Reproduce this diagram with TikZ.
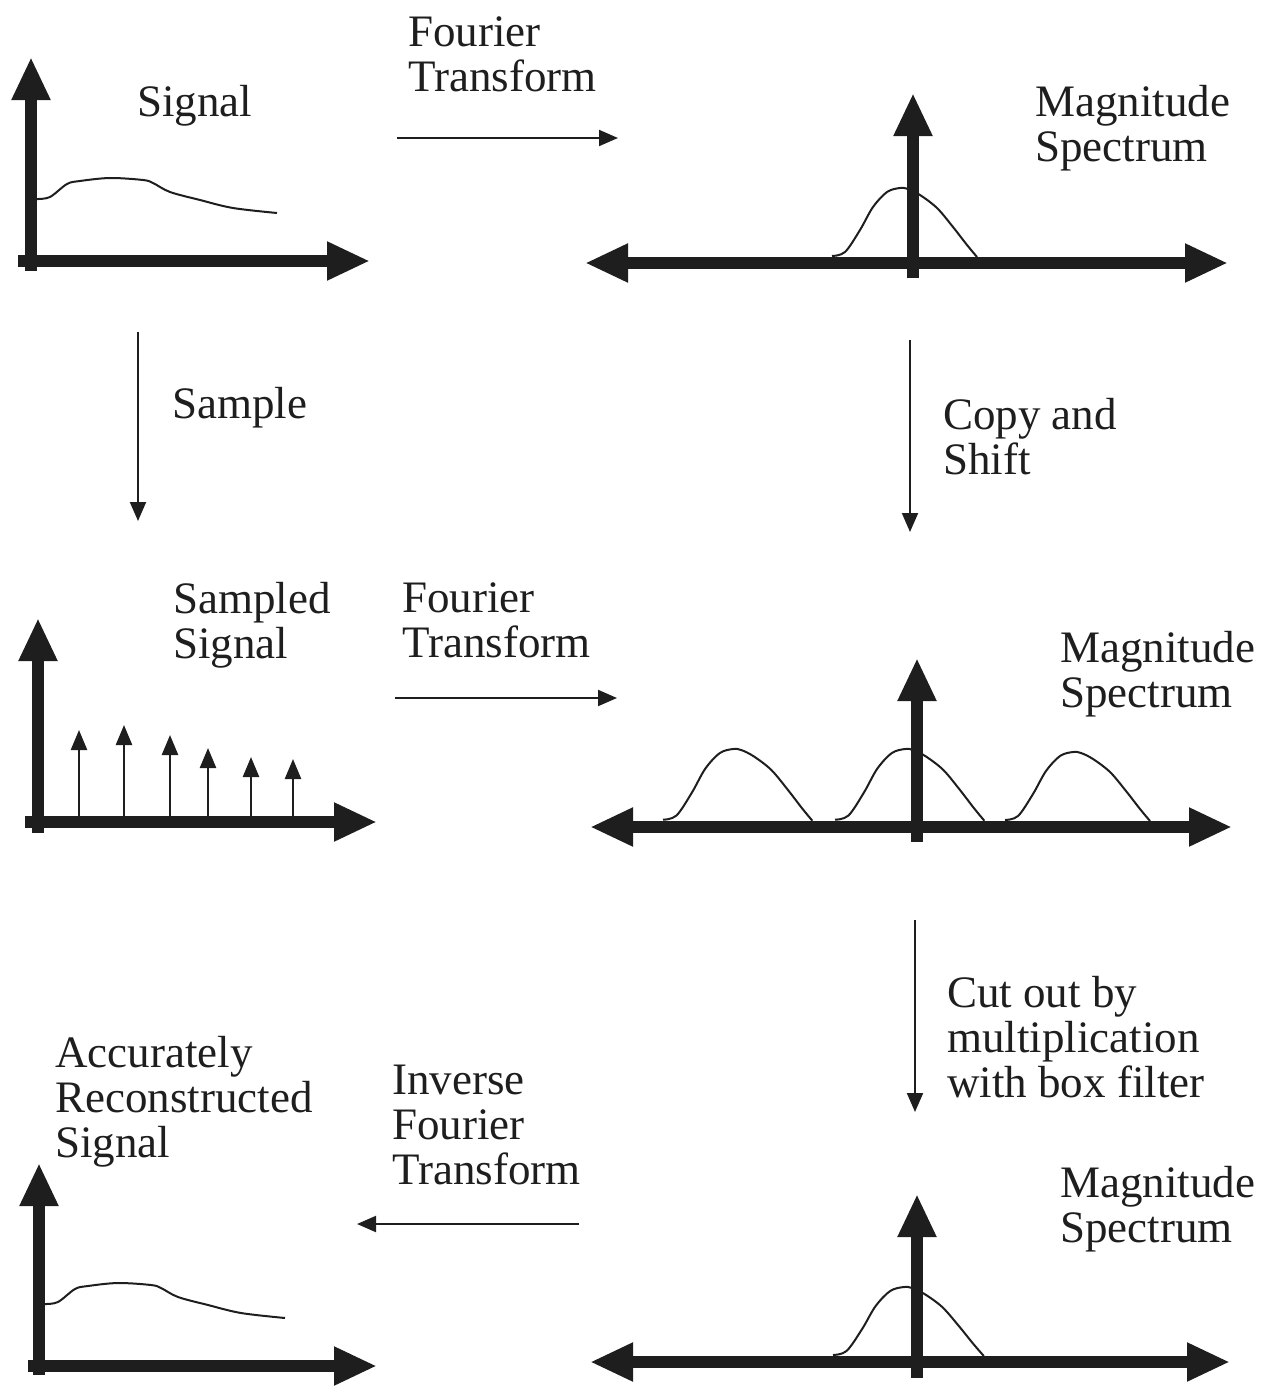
\documentclass[tikz,border=0pt]{standalone}
\usepackage{fontspec}
\setmainfont{Liberation Serif}
\usetikzlibrary{arrows.meta}
\definecolor{ink}{HTML}{1E1E1E}
\newcommand{\lblfont}{\fontsize{45}{45}\selectfont}
\tikzset{
  axis/.style={draw=ink, line width=12pt, -{Triangle[length=43pt,width=36pt]}},
  axistwo/.style={draw=ink, line width=12pt, {Triangle[length=43pt,width=36pt]}-{Triangle[length=43pt,width=36pt]}},
  flow/.style={draw=ink, line width=2pt, -{Triangle[length=19pt,width=16pt]}},
  stem/.style={draw=ink, line width=2.5pt, -{Triangle[length=20pt,width=16pt]}},
  curve/.style={draw=ink, line width=2pt},
  lbl/.style={anchor=base west, inner sep=0pt, align=left, font=\lblfont, text=ink},
  bump/.pic={\draw[curve] plot[smooth,tension=0.55] coordinates{(0,-7) (13,-11) (28,-33) (41,-56) (55,-71) (68,-75) (76,-74) (88,-68) (105,-55) (121,-36) (135,-18) (145,-6)};},
  signalcurve/.pic={\draw[curve] plot[smooth,tension=0.55] coordinates{(6,-62) (19,-64) (36,-77) (49,-80) (79,-83) (112,-81) (122,-78) (139,-69) (169,-61) (202,-53) (246,-48)};}
}
\begin{document}
\begin{tikzpicture}[x=1pt,y=-1pt]
\useasboundingbox (0,0) rectangle (1268,1389);

% ---------- Panel 1: Signal ----------
\pic at (31,261) {signalcurve};
\draw[axis] (31,271) -- (31,57);
\draw[axis] (18,261) -- (370,261);
\node[lbl] (sig) at (137,116) {Signal};

% ---------- Panel 2: Magnitude spectrum ----------
\pic at (832,263) {bump};
\draw[axistwo] (585,263) -- (1228,263);
\draw[axis] (913,278) -- (913,93);
\node[lbl] (mag1) at (1035,161) {Magnitude\\Spectrum};

% ---------- Fourier transform (top) ----------
\node[lbl] (ft1) at (408,92) {Fourier\\Transform};
\coordinate (ftAs) at (397,138);
\coordinate (ftAe) at (618,138);
\draw[flow] (ftAs) -- (ftAe);

% ---------- Sample ----------
\coordinate (smpS) at (138,332);
\coordinate (smpE) at (138,521);
\draw[flow] (smpS) -- (smpE);
\node[lbl] (samp) at (172,418) {Sample};

% ---------- Copy and shift ----------
\coordinate (cpyS) at (910,340);
\coordinate (cpyE) at (910,532);
\draw[flow] (cpyS) -- (cpyE);
\node[lbl] (copy) at (943,474) {Copy and\\Shift};

% ---------- Panel 3: Sampled signal ----------
\foreach \sx/\sy in {79/730,124/725,170/735,208/748,251/757,293/759}
  \draw[stem] (\sx,816) -- (\sx,\sy);
\draw[axis] (38,833) -- (38,618);
\draw[axis] (25,822) -- (377,822);
\node[lbl] (ssig) at (173,658) {Sampled\\Signal};

% ---------- Fourier transform (middle) ----------
\node[lbl] (ft2) at (402,657) {Fourier\\Transform};
\coordinate (ftBs) at (395,698);
\coordinate (ftBe) at (617,698);
\draw[flow] (ftBs) -- (ftBe);

% ---------- Panel 4: replicated spectrum ----------
\pic[xscale=1.03,yscale=1.04] at (663,827) {bump};
\pic[xscale=1.03,yscale=1.04] at (835,827) {bump};
\pic[xscale=1.0,yscale=1.0] at (1005,827) {bump};
\draw[axistwo] (590,827) -- (1232,827);
\draw[axis] (917,842) -- (917,658);
\node[lbl] (mag2) at (1060,707) {Magnitude\\Spectrum};

% ---------- Cut out ----------
\coordinate (cutS) at (915,920);
\coordinate (cutE) at (915,1112);
\draw[flow] (cutS) -- (cutE);
\node[lbl] (cut) at (947,1097) {Cut out by\\multiplication\\with box filter};

% ---------- Panel 6: filtered spectrum ----------
\pic[xscale=1.04,yscale=1.0] at (833,1362) {bump};
\draw[axistwo] (590,1362) -- (1230,1362);
\draw[axis] (917,1378) -- (917,1194);
\node[lbl] (mag3) at (1060,1242) {Magnitude\\Spectrum};

% ---------- Inverse Fourier transform ----------
\node[lbl] (ift) at (392,1184) {Inverse\\Fourier\\Transform};
\coordinate (iftS) at (579,1224);
\coordinate (iftE) at (357,1224);
\draw[flow] (iftS) -- (iftE);

% ---------- Panel 5: reconstructed signal ----------
\pic at (39,1366) {signalcurve};
\draw[axis] (39,1375) -- (39,1163);
\draw[axis] (28,1366) -- (377,1366);
\node[lbl] (acc) at (55,1157) {Accurately\\Reconstructed\\Signal};
\end{tikzpicture}
\end{document}
